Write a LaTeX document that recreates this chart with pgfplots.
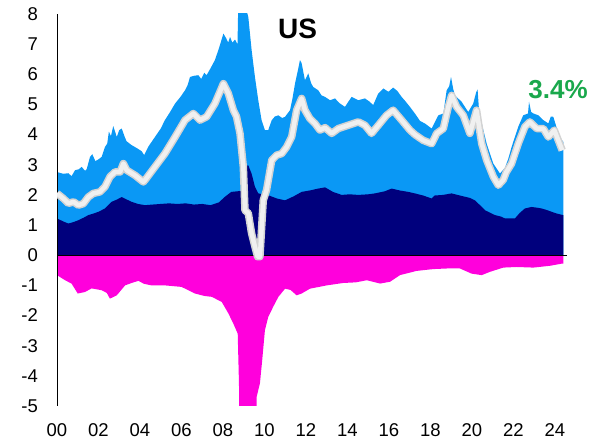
\documentclass[border=0pt]{standalone}
\usepackage{fontspec}
\setmainfont{Liberation Sans}
\usepackage{pgfplots}
\pgfplotsset{compat=1.18}
\definecolor{lblue}{RGB}{10,152,245}
\definecolor{dnavy}{RGB}{0,0,125}
\definecolor{mag}{RGB}{255,0,220}
\definecolor{lgreen}{RGB}{26,168,76}
\definecolor{lineedge}{RGB}{210,210,210}
\definecolor{linefill}{RGB}{240,240,240}

\begin{document}
\begin{tikzpicture}
\useasboundingbox (0,0) rectangle (591bp,447bp);
\begin{axis}[
    at={(57bp,41bp)}, anchor=south west,
    scale only axis, width=510bp, height=392bp,
    xmin=2000, xmax=2024.58, ymin=-5, ymax=8,
    axis line style={draw=none},
    major tick length=0pt,
    xtick={2000,2002,...,2024},
    xticklabels={00,02,04,06,08,10,12,14,16,18,20,22,24},
    ytick={-5,-4,...,8},
    yticklabels={-5,-4,-3,-2,-1,0,1,2,3,4,5,6,7,8},
    tick label style={font=\fontsize{18.5bp}{22bp}\selectfont, inner sep=0pt},
    xticklabel style={text height=13.3bp, text depth=0pt},
    xticklabel shift=17bp,
    yticklabel shift=19bp,
    line join=round,
]
% total of positive contributions
\addplot[fill=lblue, draw=none] coordinates {
(2000.00,2.76) (2000.30,2.70) (2000.55,2.72) (2000.70,2.62) (2000.87,2.82)
(2001.05,2.85) (2001.19,2.93) (2001.35,2.80) (2001.43,2.85) (2001.59,3.26)
(2001.70,3.35) (2001.85,3.12) (2002.00,3.18) (2002.15,3.26) (2002.31,3.59)
(2002.42,3.70) (2002.50,4.10) (2002.60,3.95) (2002.71,4.28) (2002.80,4.10)
(2002.88,3.92) (2003.00,4.15) (2003.12,4.20) (2003.25,3.95) (2003.35,3.78)
(2003.60,3.65) (2003.85,3.55) (2004.08,3.45) (2004.20,3.32) (2004.40,3.60)
(2004.72,3.92) (2005.00,4.20) (2005.20,4.48) (2005.45,4.75) (2005.69,5.03)
(2005.95,5.25) (2006.17,5.47) (2006.30,5.65) (2006.41,5.91) (2006.60,5.95)
(2006.81,5.97) (2006.95,5.85) (2007.10,6.05) (2007.21,5.97) (2007.40,6.20)
(2007.61,6.47) (2007.80,6.85) (2008.02,7.35) (2008.15,7.20) (2008.25,7.05)
(2008.34,7.24) (2008.45,7.05) (2008.58,7.15) (2008.70,7.00) (2008.74,8.50)
(2008.90,8.50) (2009.10,8.20) (2009.22,7.90) (2009.38,6.80) (2009.54,5.91)
(2009.70,5.14) (2009.86,4.48) (2010.02,4.15) (2010.18,4.15) (2010.35,4.48)
(2010.50,4.60) (2010.67,4.64) (2010.85,4.55) (2010.99,4.59) (2011.23,4.81)
(2011.35,5.20) (2011.47,5.69) (2011.60,6.10) (2011.71,6.47) (2011.79,6.37)
(2011.95,5.80) (2012.11,6.03) (2012.25,5.70) (2012.35,5.58) (2012.59,5.47)
(2012.75,5.30) (2012.92,5.25) (2013.16,5.14) (2013.40,5.20) (2013.60,5.05)
(2013.88,4.92) (2014.05,5.10) (2014.20,5.25) (2014.52,5.14) (2014.84,5.20)
(2015.05,5.10) (2015.24,4.98) (2015.48,5.36) (2015.73,5.53) (2015.97,5.42)
(2016.20,5.56) (2016.40,5.45) (2016.61,5.25) (2016.80,5.10) (2017.01,4.92)
(2017.25,4.70) (2017.50,4.45) (2017.73,4.37) (2018.06,4.20) (2018.20,4.40)
(2018.38,4.64) (2018.62,4.70) (2018.78,5.47) (2018.90,5.60) (2018.99,5.91)
(2019.10,5.50) (2019.18,5.30) (2019.50,5.09) (2019.82,4.75) (2020.06,5.03)
(2020.20,5.40) (2020.27,5.50) (2020.35,4.70) (2020.47,4.37) (2020.71,3.70)
(2021.03,3.04) (2021.35,2.71) (2021.59,2.90) (2021.75,3.20) (2021.91,3.59)
(2022.23,4.26) (2022.47,4.64) (2022.70,4.70) (2022.75,5.09) (2022.85,4.75)
(2022.96,4.70) (2023.20,4.64) (2023.44,4.48) (2023.68,4.37) (2023.80,4.60)
(2023.92,4.59) (2024.05,4.30) (2024.16,4.04) (2024.30,3.85) (2024.40,3.76)
} \closedcycle;
% lower positive contribution
\addplot[fill=dnavy, draw=none] coordinates {
(2000.00,1.22) (2000.30,1.12) (2000.55,1.05) (2000.80,1.10) (2001.03,1.16)
(2001.30,1.25) (2001.51,1.33) (2001.75,1.38) (2002.00,1.44) (2002.31,1.55)
(2002.63,1.77) (2002.90,1.85) (2003.12,1.93) (2003.35,1.85) (2003.60,1.77)
(2003.90,1.70) (2004.24,1.66) (2004.60,1.68) (2005.00,1.70) (2005.40,1.72)
(2005.80,1.70) (2006.20,1.72) (2006.60,1.68) (2007.00,1.70) (2007.40,1.66)
(2007.80,1.75) (2008.08,1.93) (2008.40,2.10) (2008.70,2.12) (2009.00,2.15)
(2009.08,2.95) (2009.22,2.98) (2009.38,2.70) (2009.54,2.27) (2009.70,2.05)
(2010.18,1.99) (2010.60,1.88) (2010.99,1.82) (2011.40,1.95) (2011.79,2.10)
(2012.20,2.15) (2012.59,2.21) (2012.92,2.25) (2013.30,2.10) (2013.72,2.00)
(2014.10,2.02) (2014.52,2.00) (2015.00,2.02) (2015.32,2.05) (2015.80,2.12)
(2016.13,2.21) (2016.50,2.15) (2016.93,2.10) (2017.25,2.05) (2017.65,1.98)
(2018.06,1.88) (2018.20,1.98) (2018.60,2.00) (2019.02,2.05) (2019.30,2.00)
(2019.66,1.94) (2019.90,1.90) (2020.14,1.82) (2020.40,1.65) (2020.63,1.49)
(2020.90,1.40) (2021.11,1.33) (2021.40,1.28) (2021.59,1.22) (2022.07,1.22)
(2022.30,1.40) (2022.55,1.55) (2022.87,1.60) (2023.10,1.58) (2023.36,1.55)
(2023.60,1.50) (2023.84,1.44) (2024.10,1.38) (2024.40,1.33)
} \closedcycle;
% negative contribution
\addplot[fill=mag, draw=none] coordinates {
(2000.00,-0.66) (2000.39,-0.83) (2000.70,-0.94) (2001.00,-1.27) (2001.35,-1.22)
(2001.67,-1.10) (2002.15,-1.16) (2002.40,-1.25) (2002.55,-1.44) (2002.88,-1.33)
(2003.10,-1.15) (2003.28,-1.00) (2003.60,-0.92) (2003.92,-0.85) (2004.20,-0.95)
(2004.56,-1.00) (2005.20,-1.00) (2006.00,-1.05) (2006.65,-1.27) (2007.10,-1.35)
(2007.46,-1.38) (2007.94,-1.55) (2008.26,-1.93) (2008.50,-2.27) (2008.71,-2.60)
(2008.77,-4.25) (2008.82,-7.00) (2009.60,-7.00) (2009.62,-4.70) (2009.78,-4.25)
(2009.89,-3.48) (2010.02,-2.49) (2010.18,-2.05) (2010.42,-1.71) (2010.67,-1.38)
(2010.99,-1.11) (2011.25,-1.15) (2011.55,-1.33) (2011.79,-1.27) (2012.19,-1.11)
(2013.00,-1.00) (2013.80,-0.92) (2014.40,-0.90) (2014.93,-0.83) (2015.57,-0.94)
(2016.05,-0.88) (2016.53,-0.66) (2017.33,-0.52) (2018.13,-0.46) (2018.78,-0.44)
(2019.42,-0.44) (2019.98,-0.61) (2020.47,-0.66) (2020.87,-0.55) (2021.51,-0.41)
(2022.15,-0.39) (2022.96,-0.41) (2023.76,-0.35) (2024.32,-0.28) (2024.40,-0.28)
} \closedcycle;
% zero line and y axis
\addplot[black, line width=1.3bp] coordinates {(2000,0) (2024.58,0)};
\addplot[black, line width=1.5bp] coordinates {(2000,-5) (2000,8)};
% net total
\pgfplotstableread{
x y
2000.00 2.05
2000.31 1.88
2000.55 1.72
2000.80 1.77
2001.03 1.66
2001.27 1.71
2001.51 1.93
2001.75 2.05
2002.07 2.10
2002.31 2.27
2002.55 2.60
2002.79 2.76
2003.04 2.76
2003.20 3.04
2003.36 2.82
2003.76 2.65
2004.16 2.43
2004.24 2.49
2004.72 2.93
2005.20 3.37
2005.69 3.92
2006.17 4.48
2006.57 4.70
2006.89 4.48
2007.21 4.59
2007.61 5.03
2008.02 5.69
2008.26 5.36
2008.50 4.81
2008.65 4.60
2008.82 4.04
2008.98 2.93
2009.06 1.49
2009.22 1.39
2009.38 0.72
2009.54 0.28
2009.67 -0.05
2009.78 -0.05
2009.94 1.82
2010.10 2.16
2010.35 3.15
2010.59 3.32
2010.83 3.37
2011.07 3.59
2011.31 3.92
2011.55 4.81
2011.79 5.20
2011.95 4.81
2012.19 4.53
2012.43 4.37
2012.67 4.15
2012.92 4.23
2013.24 4.04
2013.56 4.20
2014.04 4.31
2014.52 4.42
2014.84 4.31
2015.16 4.04
2015.56 4.37
2015.88 4.64
2016.20 4.81
2016.61 4.48
2017.01 4.15
2017.25 4.00
2017.65 3.81
2018.06 3.70
2018.30 4.04
2018.62 4.20
2018.86 4.92
2019.02 5.30
2019.26 4.92
2019.58 4.64
2019.90 4.04
2020.22 4.81
2020.47 3.70
2020.71 3.15
2021.03 2.60
2021.27 2.32
2021.51 2.50
2021.65 2.75
2021.91 3.04
2022.23 3.70
2022.55 4.26
2022.79 4.42
2023.12 4.20
2023.44 4.20
2023.68 3.92
2023.97 4.15
2024.16 3.81
2024.35 3.48
}\nettotal
\addplot[lineedge, line width=7.5bp] table {\nettotal};
\addplot[linefill, line width=4.5bp] table {\nettotal};
\end{axis}
\node[anchor=south, inner sep=0pt, font=\fontsize{28bp}{30bp}\selectfont\bfseries] at (297.5bp,407.7bp) {US};
\node[anchor=base, inner sep=0pt, text=lgreen, font=\fontsize{26bp}{28bp}\selectfont\bfseries] at (558bp,348bp) {3.4\%};
\end{tikzpicture}
\end{document}
